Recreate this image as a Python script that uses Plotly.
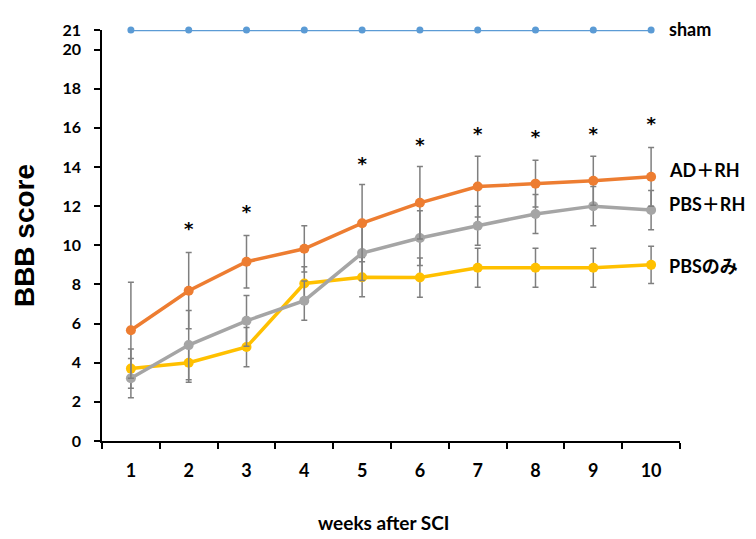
import plotly.graph_objects as go

weeks = [1, 2, 3, 4, 5, 6, 7, 8, 9, 10]
sham = [21, 21, 21, 21, 21, 21, 21, 21, 21, 21]
ad_rh = [5.66, 7.68, 9.16, 9.82, 11.13, 12.17, 13.0, 13.15, 13.3, 13.5]
ad_rh_err = [2.45, 1.95, 1.34, 1.18, 1.97, 1.85, 1.55, 1.2, 1.25, 1.5]
pbs_rh = [3.21, 4.9, 6.14, 7.17, 9.6, 10.37, 11.0, 11.6, 12.0, 11.8]
pbs_rh_err = [1.0, 1.77, 1.3, 1.0, 1.4, 1.4, 1.0, 1.0, 1.0, 1.0]
pbs_only = [3.7, 4.0, 4.8, 8.05, 8.37, 8.35, 8.85, 8.85, 8.85, 9.0]
pbs_only_err = [1.0, 1.0, 1.0, 0.85, 1.0, 1.0, 1.0, 1.0, 1.0, 0.95]
star_weeks = [2, 3, 5, 6, 7, 8, 9, 10]
star_y = [10.75, 11.6, 14.1, 15.07, 15.6, 15.45, 15.6, 16.1]
y_ticks = [0, 2, 4, 6, 8, 10, 12, 14, 16, 18, 20, 21]

FONT = "Lato, 'Noto Sans CJK JP', sans-serif"
ERR = "#7f7f7f"

fig = go.Figure()

def add_series(y, err, color, name):
    fig.add_trace(go.Scatter(
        x=weeks, y=y, mode="lines+markers", name=name,
        line=dict(color=color, width=3.5),
        marker=dict(color=color, size=10),
        error_y=dict(type="data", array=err, visible=True, color=ERR,
                     thickness=1.5, width=3),
        cliponaxis=False,
    ))

add_series(pbs_only, pbs_only_err, "#FFC000", "PBSのみ")
add_series(pbs_rh, pbs_rh_err, "#A5A5A5", "PBS＋RH")
add_series(ad_rh, ad_rh_err, "#ED7D31", "AD＋RH")

fig.add_trace(go.Scatter(
    x=weeks, y=sham, mode="lines+markers", name="sham",
    line=dict(color="#5B9BD5", width=2.5),
    marker=dict(color="#5B9BD5", size=7),
    cliponaxis=False,
))

fig.add_trace(go.Scatter(
    x=star_weeks, y=star_y, mode="text", text=["<b>*</b>"] * len(star_weeks),
    textfont=dict(size=18, color="black", family="'DejaVu Sans', sans-serif"),
    textposition="middle center", showlegend=False, cliponaxis=False,
))

labels = [("sham", sham[-1], 1), ("AD＋RH", ad_rh[-1], 7),
          ("PBS＋RH", pbs_rh[-1], 6), ("PBSのみ", pbs_only[-1], -1)]
for text, yv, ys in labels:
    fig.add_annotation(x=weeks[-1], y=yv, text="<b>%s</b>" % text,
                       xanchor="left", yanchor="middle", xshift=16, yshift=ys,
                       showarrow=False, font=dict(size=18, color="black", family=FONT))

fig.add_annotation(xref="paper", yref="paper", x=0.5, y=0, xshift=-8, yshift=-81,
                   xanchor="center", yanchor="middle", showarrow=False,
                   text="<b>weeks after SCI</b>", font=dict(size=19, color="black", family=FONT))

fig.update_layout(
    width=756, height=539,
    margin=dict(l=94, r=84, t=17, b=106),
    paper_bgcolor="white", plot_bgcolor="white",
    showlegend=False,
    font=dict(family=FONT, color="black"),
    xaxis=dict(
        range=[0.5, 10.5], tickvals=weeks, ticktext=["<b>%d</b>" % w for w in weeks],
        ticks="", showgrid=False, zeroline=False,
        showline=True, linecolor="black", linewidth=1.5,
        tickfont=dict(size=18, family=FONT), ticklabelstandoff=13,
        minor=dict(ticks="outside", tick0=0.5, dtick=1, ticklen=6,
                   tickcolor="black", tickwidth=1.5, showgrid=False),
    ),
    yaxis=dict(
        range=[0, 21], tickvals=y_ticks, ticktext=["<b>%d</b>" % v for v in y_ticks],
        ticks="outside", ticklen=6, tickwidth=1.5, tickcolor="black",
        showgrid=False, zeroline=False,
        showline=True, linecolor="black", linewidth=1.5,
        tickfont=dict(size=16, family=FONT), ticklabelstandoff=10,
        title=dict(text="<b>BBB score</b>", font=dict(size=28, family="'Liberation Sans', Arial, sans-serif"), standoff=20),
    ),
)

fig.write_html("out.html")
